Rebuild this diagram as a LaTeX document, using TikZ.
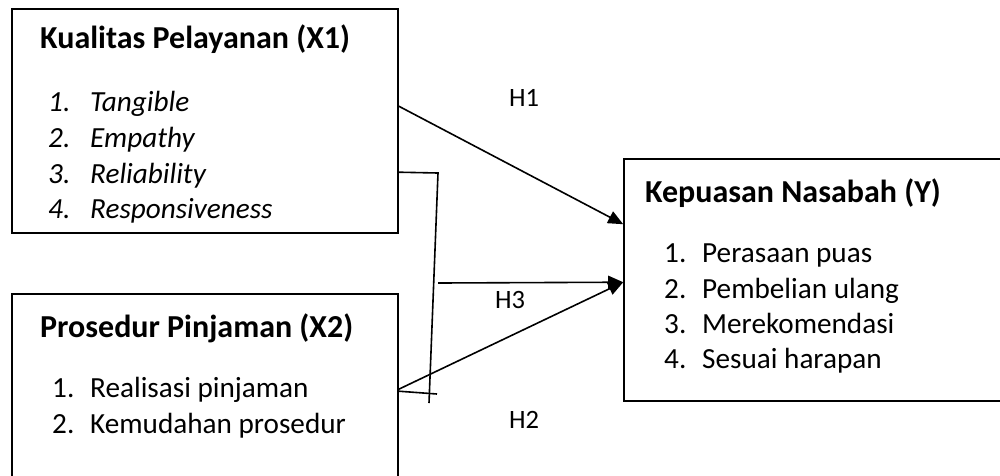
\documentclass[tikz,border=0pt]{standalone}
\usepackage{fontspec}
\setmainfont{Carlito}
\usetikzlibrary{arrows.meta,calc}
\begin{document}
\begin{tikzpicture}[x=1pt,y=-1pt,
  box/.style={draw,line width=1.6pt,rectangle,inner sep=0pt},
  ttl/.style={anchor=base west,inner sep=0pt,font=\fontsize{32}{36}\selectfont\bfseries},
  itm/.style={anchor=base west,inner sep=0pt,font=\fontsize{29.2}{34}\selectfont},
  hlab/.style={anchor=base west,inner sep=0pt,font=\fontsize{26.5}{30}\selectfont},
  con/.style={line width=1.6pt},
  arr/.style={con,-{Triangle[length=15pt,width=13pt]}}]
\useasboundingbox (0,0) rectangle (1000,475);
\clip (0,0) rectangle (1000,475);
% boxes
\node[box,minimum width=386pt,minimum height=224pt] (x1) at (205,121) {};
\node[box,minimum width=386pt,minimum height=200pt] (x2) at (205,394) {};
\node[box,minimum width=400pt,minimum height=242pt] (y) at (824,280) {};
% X1 texts
\node[ttl] (x1t) at (40,48) {Kualitas Pelayanan (X1)};
\node[itm] (x1n1) at (48,111) {\itshape 1.};
\node[itm] (x1i1) at (90,111) {\itshape Tangible};
\node[itm] (x1n2) at (48,147) {\itshape 2.};
\node[itm] (x1i2) at (90,147) {\itshape Empathy};
\node[itm] (x1n3) at (48,183) {\itshape 3.};
\node[itm] (x1i3) at (90,183) {\itshape Reliability};
\node[itm] (x1n4) at (48,218) {\itshape 4.};
\node[itm] (x1i4) at (90,218) {\itshape Responsiveness};
% X2 texts
\node[ttl] (x2t) at (40,337) {Prosedur Pinjaman (X2)};
\node[itm] (x2n1) at (52,397) {1.};
\node[itm] (x2i1) at (90,397) {Realisasi pinjaman};
\node[itm] (x2n2) at (52,433) {2.};
\node[itm] (x2i2) at (90,433) {Kemudahan prosedur};
% Y texts
\node[ttl] (yt) at (645,202) {Kepuasan Nasabah (Y)};
\node[itm] (yn1) at (664,262) {1.};
\node[itm] (yi1) at (702,262) {Perasaan puas};
\node[itm] (yn2) at (664,298) {2.};
\node[itm] (yi2) at (702,298) {Pembelian ulang};
\node[itm] (yn3) at (664,333) {3.};
\node[itm] (yi3) at (702,333) {Merekomendasi};
\node[itm] (yn4) at (664,368) {4.};
\node[itm] (yi4) at (702,368) {Sesuai harapan};
% labels
\node[hlab] (h1) at (509,106) {H1};
\node[hlab] (h3) at (495,308) {H3};
\node[hlab] (h2) at (509,428) {H2};
% coordinates
\coordinate (k1) at (438,173);
\coordinate (k2) at (429,403);
\coordinate (h3s) at (438,283);
\coordinate (tk) at (437,394);
% connectors
\draw[arr] ($(x1.north east)+(0,98)$) -- ($(y.north west)+(0,66)$);
\draw[con] ($(x1.north east)+(0,164)$) -- (k1) -- (k2);
\draw[arr] (h3s) -- ($(y.north west)+(0,124)$);
\draw[arr] ($(x2.north east)+(0,96)$) -- ($(y.north west)+(0,124)$);
\draw[con] ($(x2.north east)+(0,98)$) -- (tk);
\end{tikzpicture}
\end{document}
